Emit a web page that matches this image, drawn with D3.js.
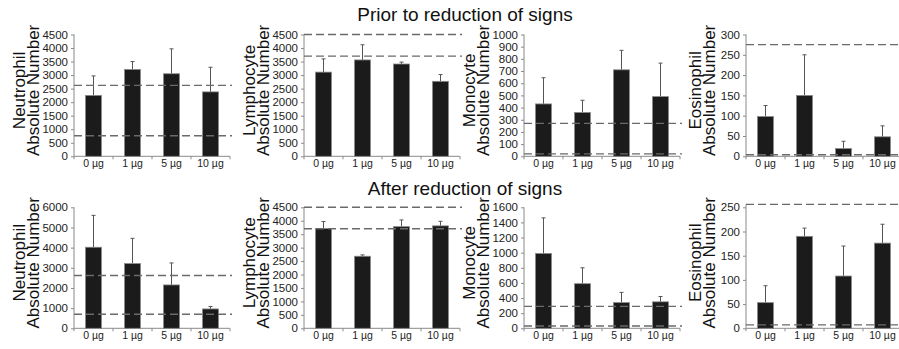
<!DOCTYPE html>
<html lang="en">
<head>
<meta charset="UTF-8">
<title>Absolute cell numbers by dose</title>
<script src="https://d3js.org/d3.v7.min.js"></script>
<style>
  body { margin: 0; background: #fff; }
  text { font-family: Arial, "Liberation Sans", sans-serif; }
</style>
</head>
<body>
<script>
// doses on the x axis
var doses = ["0 \u00b5g", "1 \u00b5g", "5 \u00b5g", "10 \u00b5g"];

// prior to reduction of signs: means, SD (upper error bar), reference range
var neutrophilPrior = [2250, 3210, 3050, 2380];
var neutrophilPriorSD = [720, 290, 920, 910];
var neutrophilPriorRef = [2620, 760];
var lymphocytePrior = [3110, 3560, 3410, 2770];
var lymphocytePriorSD = [490, 560, 70, 250];
var lymphocytePriorRef = [4500, 3700];
var monocytePrior = [430, 360, 710, 490];
var monocytePriorSD = [215, 100, 160, 275];
var monocytePriorRef = [270, 20];
var eosinophilPrior = [98, 150, 19, 48];
var eosinophilPriorSD = [27, 100, 18, 27];
var eosinophilPriorRef = [275, 4];

// after reduction of signs
var neutrophilAfter = [4020, 3210, 2150, 960];
var neutrophilAfterSD = [1580, 1250, 1090, 120];
var neutrophilAfterRef = [2620, 700];
var lymphocyteAfter = [3710, 2680, 3780, 3810];
var lymphocyteAfterSD = [260, 50, 250, 170];
var lymphocyteAfterRef = [4500, 3700];
var monocyteAfter = [990, 590, 340, 350];
var monocyteAfterSD = [470, 210, 135, 70];
var monocyteAfterRef = [290, 30];
var eosinophilAfter = [53, 190, 108, 176];
var eosinophilAfterSD = [35, 17, 62, 39];
var eosinophilAfterRef = [256, 7];

// y axis tick values per panel
var ticksNeutroPrior = [0, 500, 1000, 1500, 2000, 2500, 3000, 3500, 4000, 4500];
var ticksLympho = [0, 500, 1000, 1500, 2000, 2500, 3000, 3500, 4000, 4500];
var ticksMonoPrior = [0, 100, 200, 300, 400, 500, 600, 700, 800, 900, 1000];
var ticksEosPrior = [0, 50, 100, 150, 200, 250, 300];
var ticksNeutroAfter = [0, 1000, 2000, 3000, 4000, 5000, 6000];
var ticksMonoAfter = [0, 200, 400, 600, 800, 1000, 1200, 1400, 1600];
var ticksEosAfter = [0, 50, 100, 150, 200, 250];

var rowTitles = ["Prior to reduction of signs", "After reduction of signs"];

var width = 899, height = 349;
var svg = d3.select("body").append("svg")
    .attr("width", width)
    .attr("height", height);

// layout of the two rows and four columns
var colX = [74, 304, 524, 746];
var plotW = 156;
var rows = [
  { top: 34.5, base: 156.3, titleY: 21 },
  { top: 207.3, base: 328.3, titleY: 195 }
];

var panels = [
  { row: 0, col: 0, name: "Neutrophil", v: neutrophilPrior, sd: neutrophilPriorSD, ref: neutrophilPriorRef, ticks: ticksNeutroPrior },
  { row: 0, col: 1, name: "Lymphocyte", v: lymphocytePrior, sd: lymphocytePriorSD, ref: lymphocytePriorRef, ticks: ticksLympho },
  { row: 0, col: 2, name: "Monocyte", v: monocytePrior, sd: monocytePriorSD, ref: monocytePriorRef, ticks: ticksMonoPrior },
  { row: 0, col: 3, name: "Eosinophil", v: eosinophilPrior, sd: eosinophilPriorSD, ref: eosinophilPriorRef, ticks: ticksEosPrior },
  { row: 1, col: 0, name: "Neutrophil", v: neutrophilAfter, sd: neutrophilAfterSD, ref: neutrophilAfterRef, ticks: ticksNeutroAfter },
  { row: 1, col: 1, name: "Lymphocyte", v: lymphocyteAfter, sd: lymphocyteAfterSD, ref: lymphocyteAfterRef, ticks: ticksLympho },
  { row: 1, col: 2, name: "Monocyte", v: monocyteAfter, sd: monocyteAfterSD, ref: monocyteAfterRef, ticks: ticksMonoAfter },
  { row: 1, col: 3, name: "Eosinophil", v: eosinophilAfter, sd: eosinophilAfterSD, ref: eosinophilAfterRef, ticks: ticksEosAfter }
];

// row titles
rows.forEach(function(r, i) {
  svg.append("text")
    .attr("x", 465)
    .attr("y", r.titleY)
    .attr("text-anchor", "middle")
    .attr("font-size", 19)
    .attr("fill", "#111")
    .text(rowTitles[i]);
});

panels.forEach(function(p) {
  var r = rows[p.row];
  var x0 = colX[p.col];
  var yMax = p.ticks[p.ticks.length - 1];

  var x = d3.scaleBand()
      .domain(doses)
      .range([x0, x0 + plotW])
      .paddingInner(0.59)
      .paddingOuter(0.295);
  var y = d3.scaleLinear()
      .domain([0, yMax])
      .range([r.base, r.top]);

  var g = svg.append("g");

  // y axis, drawn up to the highest reference line if that is above the last tick
  var axisTop = Math.min(r.top, y(d3.max(p.ref)));
  var yAxis = g.append("g")
      .attr("transform", "translate(" + x0 + ",0)")
      .call(d3.axisLeft(y).tickValues(p.ticks).tickSize(3).tickPadding(3).tickSizeOuter(0).tickFormat(d3.format("d")));
  yAxis.select(".domain").remove();
  yAxis.selectAll(".tick line").attr("stroke", "#8a8a8a");
  yAxis.selectAll(".tick text")
      .attr("font-size", 11.5)
      .attr("fill", "#222")
      .attr("font-family", "Arial, 'Liberation Sans', sans-serif");
  g.append("line")
    .attr("x1", x0).attr("x2", x0)
    .attr("y1", r.base).attr("y2", axisTop)
    .attr("stroke", "#8a8a8a");

  // x axis: baseline, ticks at band edges, dose labels
  g.append("line")
    .attr("x1", x0).attr("x2", x0 + plotW)
    .attr("y1", r.base).attr("y2", r.base)
    .attr("stroke", "#8a8a8a");
  g.selectAll(".xtick")
    .data(d3.range(doses.length + 1))
    .enter().append("line")
    .attr("x1", function(i) { return x0 + i * x.step(); })
    .attr("x2", function(i) { return x0 + i * x.step(); })
    .attr("y1", r.base).attr("y2", r.base + 3)
    .attr("stroke", "#8a8a8a");
  g.selectAll(".xlab")
    .data(doses)
    .enter().append("text")
    .attr("x", function(d) { return x(d) + x.bandwidth() / 2; })
    .attr("y", r.base + 11)
    .attr("text-anchor", "middle")
    .attr("font-size", 10.5)
    .attr("fill", "#222")
    .text(function(d) { return d; });

  // error bars (upper only)
  var bw = x.bandwidth();
  g.selectAll(".err")
    .data(p.v)
    .enter().append("line")
    .attr("x1", function(d, i) { return x(doses[i]) + bw / 2; })
    .attr("x2", function(d, i) { return x(doses[i]) + bw / 2; })
    .attr("y1", function(d) { return y(d); })
    .attr("y2", function(d, i) { return y(d + p.sd[i]); })
    .attr("stroke", "#555")
    .attr("stroke-width", 1);
  g.selectAll(".cap")
    .data(p.v)
    .enter().append("line")
    .attr("x1", function(d, i) { return x(doses[i]) + bw / 2 - 2; })
    .attr("x2", function(d, i) { return x(doses[i]) + bw / 2 + 2; })
    .attr("y1", function(d, i) { return y(d + p.sd[i]); })
    .attr("y2", function(d, i) { return y(d + p.sd[i]); })
    .attr("stroke", "#555")
    .attr("stroke-width", 1);

  // bars
  g.selectAll(".bar")
    .data(p.v)
    .enter().append("rect")
    .attr("x", function(d, i) { return x(doses[i]); })
    .attr("y", function(d) { return y(d); })
    .attr("width", bw)
    .attr("height", function(d) { return r.base - y(d); })
    .attr("fill", "#1b1b1b")
    .attr("stroke", "#8a8a8a")
    .attr("stroke-width", 0.8);

  // reference range, dashed
  g.selectAll(".ref")
    .data(p.ref)
    .enter().append("line")
    .attr("x1", x0).attr("x2", x0 + plotW + 2)
    .attr("y1", function(d) { return y(d); })
    .attr("y2", function(d) { return y(d); })
    .attr("stroke", "#6a6a6a")
    .attr("stroke-width", 1.4)
    .attr("stroke-dasharray", "8,4");

  // y axis label, two lines rotated
  var cy = (r.top + r.base) / 2 - 5;
  var lx = p.col === 3 ? x0 - 45 : x0 - 49;
  var lab = g.append("text")
    .attr("transform", "translate(" + lx + "," + cy + ") rotate(-90)")
    .attr("text-anchor", "middle")
    .attr("font-size", 17)
    .attr("fill", "#111");
  lab.append("tspan").attr("x", 0).attr("dy", 0).text(p.name);
  lab.append("tspan").attr("x", 0).attr("dy", 14).text("Absolute Number");
});
</script>
</body>
</html>
